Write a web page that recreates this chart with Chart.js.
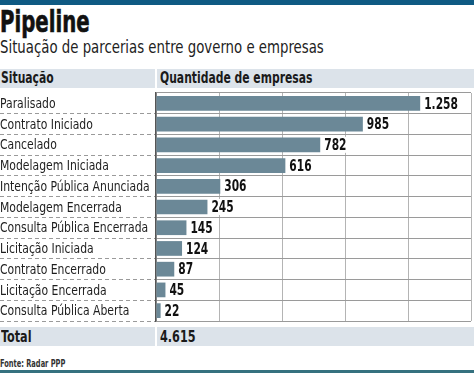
<!DOCTYPE html>
<html>
<head>
<meta charset="utf-8">
<script src="https://cdn.jsdelivr.net/npm/chart.js@4.4.1/dist/chart.umd.min.js"></script>
<style>
  body { margin: 0; background: #fff; }
  #page { position: relative; width: 474px; height: 373px; overflow: hidden;
          font-family: "DejaVu Sans Condensed", "DejaVu Sans", sans-serif; color: #1a1a1a; }
  .abs { position: absolute; white-space: nowrap; }
  .cond { display: inline-block; transform-origin: 0 50%; }
  #topbar { left: 0; top: 0; width: 474px; height: 5px; background: #0f5a83; }
  #title { left: 0; top: 7px; font-size: 30px; line-height: 30px; font-weight: bold; color: #111; }
  #title .cond { transform: scaleX(0.73); -webkit-text-stroke: 0.6px #111; }
  #subtitle { left: 0; top: 37px; font-size: 17px; line-height: 20px; color: #222; }
  #subtitle .cond { transform: scaleX(0.87); }
  .band { left: 0; width: 474px; height: 19px; background: #dce3ea; }
  .band .sep { position: absolute; left: 155px; top: 0; width: 2px; height: 100%; background: #fff; }
  .band .cell { position: absolute; top: 0; line-height: 19px; font-weight: bold; }
  #header { top: 69px; font-size: 15px; }
  #header .cond { transform: scaleX(0.8); }
  #total { top: 327px; font-size: 16px; }
  #total .cond { transform: scaleX(0.78); }
  #chartBox { left: 0; top: 88px; width: 474px; height: 236px; }
  #fonte { left: 0; top: 359px; font-size: 10px; line-height: 10px; font-weight: bold; color: #333; }
  #fonte .cond { transform: scaleX(0.74); }
  #botbar { left: 0; top: 370px; width: 474px; height: 3px; background: #35717f; }
</style>
</head>
<body>
<div id="page">
  <div id="topbar" class="abs"></div>
  <div id="title" class="abs"><span class="cond">Pipeline</span></div>
  <div id="subtitle" class="abs"><span class="cond">Situação de parcerias entre governo e empresas</span></div>
  <div id="header" class="abs band">
    <span class="cell" style="left:1px"><span class="cond">Situação</span></span>
    <div class="sep"></div>
    <span class="cell" style="left:160px"><span class="cond">Quantidade de empresas</span></span>
  </div>
  <div id="chartBox" class="abs"><canvas id="chart"></canvas></div>
  <div id="total" class="abs band">
    <span class="cell" style="left:1px"><span class="cond">Total</span></span>
    <div class="sep"></div>
    <span class="cell" style="left:160px"><span class="cond" id="totalValue"></span></span>
  </div>
  <div id="fonte" class="abs"><span class="cond">Fonte: Radar PPP</span></div>
  <div id="botbar" class="abs"></div>
</div>
<script>
// dados
var situacoes = ['Paralisado', 'Contrato Iniciado', 'Cancelado', 'Modelagem Iniciada',
  'Intenção Pública Anunciada', 'Modelagem Encerrada', 'Consulta Pública Encerrada',
  'Licitação Iniciada', 'Contrato Encerrado', 'Licitação Encerrada', 'Consulta Pública Aberta'];
var empresas = [1258, 985, 782, 616, 306, 245, 145, 124, 87, 45, 22];
var totalEmpresas = 4615;
var escala = [0, 300, 600, 900, 1200, 1500];

var fonte = '"DejaVu Sans Condensed", "DejaVu Sans", sans-serif';

function formata(n) {
  return String(n).replace(/\B(?=(\d{3})+(?!\d))/g, '.');
}

document.getElementById('totalValue').textContent = formata(totalEmpresas);

// texto estreitado no canvas
function textoEstreito(ctx, txt, x, y, sx) {
  ctx.save();
  ctx.translate(x, y);
  ctx.scale(sx, 1);
  ctx.fillText(txt, 0, 0);
  ctx.restore();
}

// nomes das situacoes (eixo y) e valores a direita das barras
var rotulos = {
  id: 'rotulos',
  afterDatasetsDraw: function(chart) {
    var ctx = chart.ctx;
    var eixoY = chart.scales.y;
    var meta = chart.getDatasetMeta(0);
    ctx.save();
    ctx.textBaseline = 'middle';
    ctx.textAlign = 'left';

    ctx.font = '14px ' + fonte;
    ctx.fillStyle = '#1e1e1e';
    chart.data.labels.forEach(function(lbl, i) {
      textoEstreito(ctx, lbl, eixoY.left, eixoY.getPixelForTick(i) + 1, 0.86);
    });

    ctx.font = 'bold 16px ' + fonte;
    meta.data.forEach(function(bar, i) {
      var txt = formata(empresas[i]);
      var w = ctx.measureText(txt).width * 0.74;
      var x = bar.x + 4;
      ctx.fillStyle = '#fff';
      ctx.fillRect(x - 1, bar.y - 8, w + 3, 16);
      ctx.fillStyle = '#111';
      textoEstreito(ctx, txt, x, bar.y + 1, 0.74);
    });
    ctx.restore();
  }
};

new Chart(document.getElementById('chart'), {
  type: 'bar',
  data: {
    labels: situacoes,
    datasets: [{
      data: empresas,
      backgroundColor: '#6b8897',
      barPercentage: 0.71,
      categoryPercentage: 1
    }]
  },
  options: {
    indexAxis: 'y',
    responsive: true,
    maintainAspectRatio: false,
    animation: false,
    layout: { padding: { top: 5, right: 3, bottom: 3, left: 0 } },
    plugins: { legend: { display: false }, tooltip: { enabled: false } },
    scales: {
      x: {
        min: escala[0],
        max: escala[escala.length - 1],
        afterBuildTicks: function(axis) {
          axis.ticks = escala.map(function(v) { return { value: v }; });
        },
        afterFit: function(axis) { axis.height = 0; },
        ticks: { display: false },
        grid: { color: '#b4b4b4', lineWidth: 1, drawTicks: false },
        border: { display: false }
      },
      y: {
        afterFit: function(axis) { axis.width = 156; },
        ticks: { display: false },
        grid: {
          offset: true,
          color: '#9a9a9a',
          tickColor: function(c) { return c.index === 0 ? 'rgba(0,0,0,0)' : '#9a9a9a'; },
          tickLength: 156,
          tickBorderDash: [4, 3],
          borderDash: [4, 3],
          lineWidth: 1
        },
        border: { color: '#555', width: 1.5 }
      }
    }
  },
  plugins: [rotulos]
});
</script>
</body>
</html>
